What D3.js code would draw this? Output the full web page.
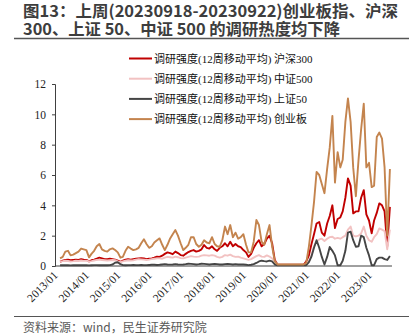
<!DOCTYPE html>
<html><head><meta charset="utf-8">
<script src="https://cdn.jsdelivr.net/npm/d3@7"></script>
<style>body{margin:0;background:#fff}svg{display:block}</style>
</head><body>
<svg id="c" width="413" height="335"></svg>
<script>
// ---- data ----
const titleLines = ["图13：上周(20230918-20230922)创业板指、沪深", "300、上证 50、中证 500 的调研热度均下降"];
const sourceText = "资料来源：wind，民生证券研究院";
const seriesNames = ["调研强度(12周移动平均) 沪深300","调研强度(12周移动平均) 中证500","调研强度(12周移动平均) 上证50","调研强度(12周移动平均) 创业板"];
const yTicks = [0,2,4,6,8,10,12];
const xTickLabels = ["2013/01","2014/01","2015/01","2016/01","2017/01","2018/01","2019/01","2020/01","2021/01","2022/01","2023/01"];
const firstMonth = "2013-03";
const lastMonth = "2023-09";
const hs300 = [0.28,0.35,0.4,0.42,0.38,0.4,0.42,0.4,0.45,0.42,
 0.4,0.3,0.38,0.42,0.48,0.55,0.5,0.45,0.45,0.48,0.45,0.42,
 0.35,0.28,0.35,0.42,0.45,0.42,0.45,0.48,0.5,0.52,0.5,0.45,
 0.48,0.5,0.55,0.62,0.6,0.68,0.8,0.9,0.85,0.78,0.95,0.85,
 0.72,0.68,0.8,0.92,1.0,1.05,0.95,1.0,1.1,1.38,1.2,1.15,
 1.3,1.1,1.0,1.2,1.3,1.5,1.3,1.6,1.3,1.45,1.3,1.25,
 1.05,0.9,0.6,0.8,1.2,1.5,1.7,1.3,1.45,1.8,2.0,1.5,
 0.4,0.1,0.08,0.08,0.08,0.08,0.08,0.08,0.08,0.08,0.08,0.08,
 0.3,0.7,1.4,2.1,2.8,2.9,2.2,2.0,2.8,3.3,4.0,2.5,
 3.1,3.2,3.6,4.5,5.78,5.3,3.47,3.6,3.6,4.5,5.0,3.4,
 3.0,2.15,3.0,3.5,4.13,4.0,3.6,1.3,3.9];
const zz500 = [0.3,0.32,0.35,0.33,0.3,0.32,0.35,0.33,0.36,0.34,
 0.35,0.3,0.32,0.36,0.4,0.42,0.4,0.38,0.36,0.38,0.4,0.38,
 0.3,0.25,0.3,0.35,0.38,0.36,0.38,0.42,0.45,0.44,0.42,0.4,
 0.42,0.45,0.48,0.5,0.5,0.48,0.55,0.6,0.58,0.55,0.62,0.58,
 0.52,0.5,0.55,0.6,0.65,0.62,0.6,0.62,0.68,0.72,0.7,0.68,
 0.72,0.68,0.6,0.55,0.6,0.72,0.68,0.75,0.65,0.6,0.62,0.55,
 0.5,0.45,0.4,0.45,0.55,0.65,0.72,0.62,0.6,0.7,0.62,0.5,
 0.3,0.07,0.07,0.07,0.07,0.07,0.07,0.07,0.07,0.07,0.07,0.07,
 0.1,0.3,0.7,1.3,1.6,1.75,1.8,1.65,1.8,1.9,1.93,1.8,
 1.85,1.8,1.9,2.0,2.4,2.6,2.0,1.95,2.0,2.15,2.6,2.0,
 1.7,1.6,1.9,2.1,2.48,2.4,2.3,1.1,2.4];
const sz50 = [0.05,0.05,0.06,0.05,0.04,0.05,0.06,0.05,0.05,0.06,
 0.05,0.04,0.05,0.06,0.06,0.05,0.05,0.06,0.05,0.06,0.1,0.22,
 0.25,0.12,0.06,0.05,0.06,0.06,0.07,0.06,0.06,0.07,0.06,0.06,
 0.07,0.08,0.08,0.07,0.08,0.1,0.12,0.1,0.09,0.1,0.12,0.1,
 0.09,0.1,0.12,0.15,0.14,0.12,0.1,0.12,0.15,0.14,0.12,0.1,
 0.12,0.14,0.12,0.1,0.1,0.12,0.14,0.12,0.1,0.12,0.1,0.1,
 0.1,0.08,0.06,0.08,0.12,0.2,0.3,0.35,0.32,0.3,0.35,0.3,
 0.1,0.05,0.05,0.05,0.05,0.05,0.05,0.05,0.05,0.05,0.05,0.05,
 0.05,0.25,0.6,1.2,1.7,1.2,0.6,0.1,0.6,1.25,1.0,0.7,
 0.05,0.05,0.35,1.0,2.2,2.26,1.7,1.27,1.3,2.0,1.9,1.2,
 0.7,0.05,0.05,0.45,0.55,0.55,0.45,0.4,0.66];
const cyb = [0.5,0.6,0.95,1.0,0.7,0.75,0.85,0.95,1.15,1.1,
 1.05,0.57,0.8,1.0,1.3,1.45,1.1,1.0,0.95,1.1,1.16,1.05,
 0.9,0.55,0.6,1.0,1.27,1.15,1.05,1.1,1.2,1.5,1.76,1.45,
 1.2,1.3,1.55,1.7,1.82,1.4,1.05,1.4,1.82,2.1,2.37,2.0,
 1.5,1.05,1.2,1.4,1.9,1.9,1.45,1.27,1.4,1.7,1.55,1.5,
 1.9,1.45,1.3,1.27,1.7,2.6,2.1,2.7,1.9,2.2,1.8,1.9,
 2.1,1.4,0.9,0.9,1.6,3.03,2.7,1.6,1.4,2.1,2.7,1.3,
 0.3,0.1,0.1,0.1,0.1,0.1,0.1,0.1,0.1,0.1,0.1,0.1,
 0.2,1.3,2.6,4.2,6.2,6.0,5.4,4.8,6.4,7.8,9.9,5.5,
 7.5,6.5,7.0,9.5,11.05,9.5,6.5,4.6,7.0,9.0,10.7,6.5,
 6.8,5.2,5.3,8.5,8.8,8.4,6.5,2.0,6.4];
const seriesColors = ["#C00000","#F2C2C2","#454545","#C4844E"];

// ---- build ----
const parseM = d3.timeParse("%Y-%m");
const months = d3.timeMonth.range(parseM(firstMonth), d3.timeMonth.offset(parseM(lastMonth),1));
const seriesVals = [hs300, zz500, sz50, cyb];

const svg = d3.select("#c");
svg.append("rect").attr("width",413).attr("height",335).attr("fill","#fff");

const titleWidths = [375, 317];
const tg = svg.append("g").attr("font-family","'Noto Sans CJK SC','Noto Sans',sans-serif")
  .attr("font-weight","bold").attr("font-size",16).attr("fill","#3d3d3d");
tg.selectAll("text").data(titleLines).join("text")
  .attr("x",23).attr("y",(d,i)=>17+i*18)
  .attr("textLength",(d,i)=>titleWidths[i]).attr("lengthAdjust","spacingAndGlyphs").text(d=>d);
svg.append("line").attr("x1",14).attr("x2",409).attr("y1",38.5).attr("y2",38.5)
  .attr("stroke","#555").attr("stroke-width",1.5);

const x = d3.scaleTime().domain([new Date(2013,0,1), new Date(2024,0,1)]).range([55, 55+11*31.4]);
const y = d3.scaleLinear().domain([0,12]).range([266,84]);

// y axis
const ya = svg.append("g").attr("transform","translate(55,0)")
  .call(d3.axisLeft(y).tickValues(yTicks).tickSize(3).tickPadding(6));
ya.select(".domain").attr("stroke","#404040");
ya.selectAll(".tick line").attr("stroke","#404040");
ya.selectAll("text").attr("font-family","'Liberation Serif',serif").attr("font-size",11.5).attr("fill","#222");

// x axis
const xEnd = x(new Date(2023,8,25));
const tickDates = xTickLabels.map(s=>d3.timeParse("%Y/%m")(s));
const xa = svg.append("g").attr("transform","translate(0,266)")
  .call(d3.axisBottom(x).tickValues(tickDates).tickSize(0).tickFormat((d,i)=>xTickLabels[i]));
xa.select(".domain").attr("d",`M55,0H${xEnd}`).attr("stroke","#404040");
xa.selectAll("text").attr("font-family","'Liberation Serif',serif").attr("font-size",11.5).attr("fill","#222")
  .attr("text-anchor","end").attr("dy",null).attr("y",null)
  .attr("transform","translate(3,10) rotate(-45)");

// lines
const line = d3.line().x((d,i)=>x(months[i])).y(d=>y(d));
svg.append("g").selectAll("path").data(seriesVals).join("path")
  .attr("d",d=>line(d)).attr("fill","none")
  .attr("stroke",(d,i)=>seriesColors[i]).attr("stroke-width",1.9).attr("stroke-linejoin","round");

// legend
const lg = svg.append("g");
const rows = lg.selectAll("g").data(seriesNames).join("g").attr("transform",(d,i)=>`translate(0,${58.5+i*20.2})`);
rows.append("line").attr("x1",129).attr("x2",152).attr("stroke",(d,i)=>seriesColors[i]).attr("stroke-width",2);
rows.append("text").attr("x",154).attr("y",4).attr("font-family","'Liberation Serif','Noto Sans CJK SC',serif")
  .attr("font-size",11).attr("fill","#111").text(d=>d);

// source
svg.append("line").attr("x1",14).attr("x2",409).attr("y1",316.5).attr("y2",316.5).attr("stroke","#555").attr("stroke-width",1.2);
svg.append("text").attr("x",23).attr("y",332).attr("font-family","'Noto Sans CJK SC',sans-serif")
  .attr("font-size",12).attr("fill","#595959").text(sourceText);
</script>
</body></html>
